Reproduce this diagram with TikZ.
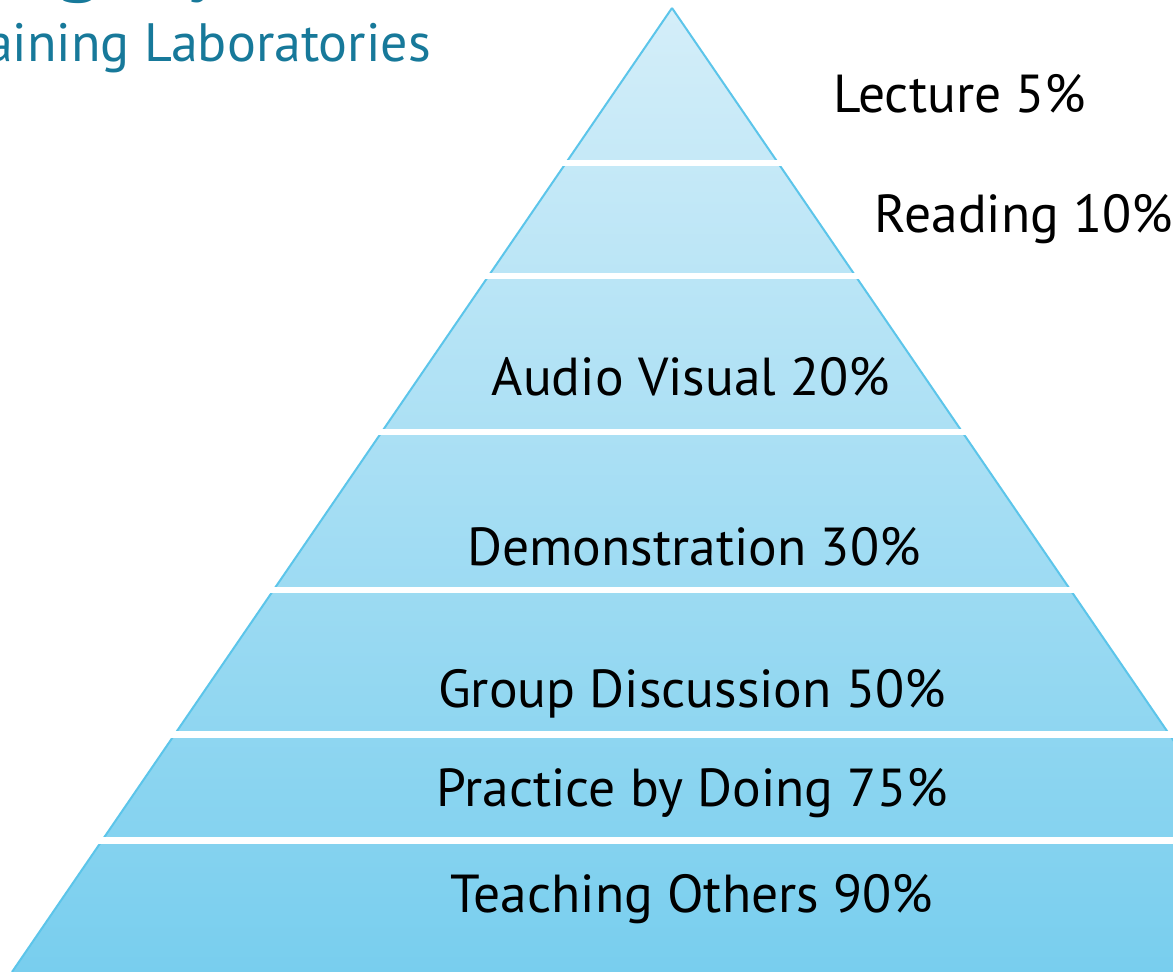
\documentclass[tikz,border=0pt]{standalone}
\usepackage{fontspec}
\setmainfont{PT Sans}
\definecolor{pyrtop}{HTML}{D4EEF9}
\definecolor{pyrbot}{HTML}{78CEEE}
\definecolor{pyredge}{HTML}{5CC5EA}
\definecolor{titleteal}{HTML}{17799A}
\tikzset{
  lbl/.style={text=black, inner sep=0pt, anchor=base, font=\fontsize{53.5}{62}\selectfont},
  edgeline/.style={draw=pyredge, line width=2pt},
  gapbar/.style={fill=white},
  titletext/.style={text=titleteal, inner sep=0pt, font=\fontsize{95}{110}\selectfont},
  subtitletext/.style={text=titleteal, inner sep=0pt, font=\fontsize{54}{64}\selectfont}
}
\begin{document}
\begin{tikzpicture}[x=1pt,y=-1pt]
\useasboundingbox (0,0) rectangle (1173,974);
\clip (0,0) rectangle (1173,974);
\fill[white] (0,0) rectangle (1173,974);
% pyramid
\coordinate (apex) at (672,8);
\coordinate (bl) at (12,972);
\coordinate (br) at (1332,972);
\shade[top color=pyrtop, bottom color=pyrbot] (apex) -- (br) -- (bl) -- cycle;
\draw[edgeline] (apex) -- (bl);
\draw[edgeline] (apex) -- (br);
% gaps between bands
\fill[gapbar] (0,160) rectangle (1173,166);
\fill[gapbar] (0,273) rectangle (1173,279);
\fill[gapbar] (0,429) rectangle (1173,435);
\fill[gapbar] (0,587) rectangle (1173,593);
\fill[gapbar] (0,731) rectangle (1173,738);
\fill[gapbar] (0,837) rectangle (1173,844);
\fill[gapbar] (0,972) rectangle (1173,974);
% titles
\node[titletext, anchor=base west] (title) at (-246,-16) {Learning Pyramid};
\node[subtitletext, anchor=base east] (subtitle) at (431,62) {National Training Laboratories};
% labels
\node[lbl] (lecture) at (960,112) {Lecture 5\%};
\node[lbl] (reading) at (1024,232) {Reading 10\%};
\node[lbl] (audio) at (691,395) {Audio Visual 20\%};
\node[lbl] (demo) at (694,565) {Demonstration 30\%};
\node[lbl] (group) at (692,707) {Group Discussion 50\%};
\node[lbl] (practice) at (692,806) {Practice by Doing 75\%};
\node[lbl] (teaching) at (692,912) {Teaching Others 90\%};
\end{tikzpicture}
\end{document}
